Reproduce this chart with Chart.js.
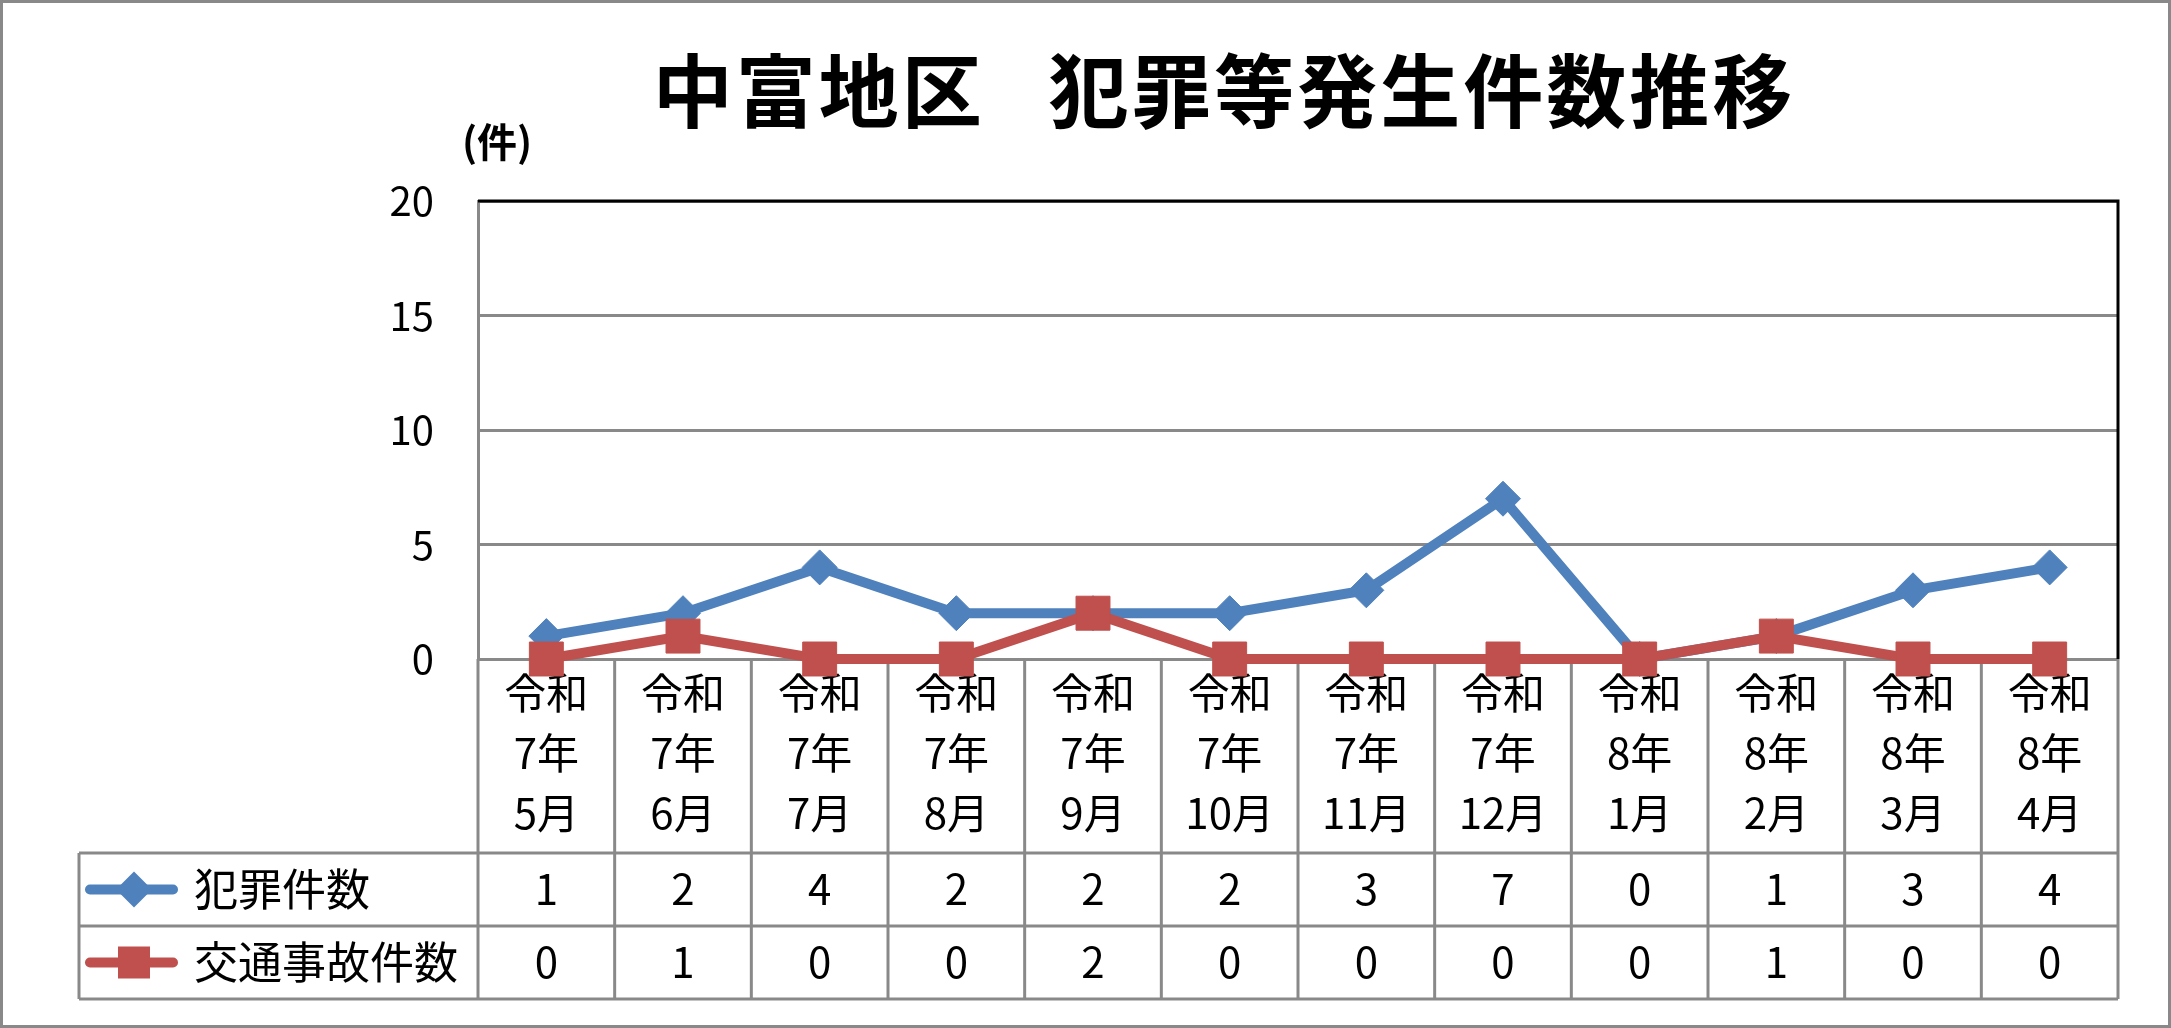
<!DOCTYPE html>
<html lang="ja">
<head>
    <meta charset="UTF-8">
    <title>中富地区 犯罪等発生件数推移</title>
    <style>
        html, body { margin: 0; padding: 0; background: #fff; }
        #wrap { width: 2171px; height: 1028px; }
    </style>
    <script src="https://cdn.jsdelivr.net/npm/chart.js"></script>
</head>
<body>
    <div id="wrap"><canvas id="chart" width="2171" height="1028"></canvas></div>

    <script>
        // data
        const months = [
            ['令和', '7年', '5月'], ['令和', '7年', '6月'], ['令和', '7年', '7月'],
            ['令和', '7年', '8月'], ['令和', '7年', '9月'], ['令和', '7年', '10月'],
            ['令和', '7年', '11月'], ['令和', '7年', '12月'], ['令和', '8年', '1月'],
            ['令和', '8年', '2月'], ['令和', '8年', '3月'], ['令和', '8年', '4月']
        ];
        const crimeCounts = [1, 2, 4, 2, 2, 2, 3, 7, 0, 1, 3, 4];
        const accidentCounts = [0, 1, 0, 0, 2, 0, 0, 0, 0, 1, 0, 0];
        const seriesNames = ['犯罪件数', '交通事故件数'];
        const yTicks = [0, 5, 10, 15, 20];
        const chartTitle = '中富地区   犯罪等発生件数推移';
        const unitLabel = '(件)';

        const BLUE = '#4F81BD';
        const RED = '#C0504D';
        const GRID = '#898989';
        const FONT = '"Noto Sans CJK JP", "Noto Sans", sans-serif';

        // draws the data table under the plot, title, unit label and frame
        const tablePlugin = {
            id: 'dataTable',
            beforeDatasetsDraw(chart) {
                const ctx = chart.ctx;
                const area = chart.chartArea;
                const xs = chart.scales.x;
                const headBottom = 853;
                const rowH = 73;
                const tableBottom = headBottom + rowH * 2;
                const tableLeft = 79;

                const centers = months.map((m, i) => xs.getPixelForValue(i));
                const band = (area.right - area.left) / months.length;

                ctx.save();
                // table lines
                ctx.strokeStyle = GRID;
                ctx.lineWidth = 3;
                ctx.beginPath();
                [headBottom, headBottom + rowH, tableBottom].forEach(y => {
                    ctx.moveTo(tableLeft, y);
                    ctx.lineTo(area.right, y);
                });
                ctx.moveTo(tableLeft, headBottom);
                ctx.lineTo(tableLeft, tableBottom);
                for (let i = 0; i <= months.length; i++) {
                    const x = i < months.length ? centers[i] - band / 2 : centers[i - 1] + band / 2;
                    ctx.moveTo(x, area.bottom);
                    ctx.lineTo(x, tableBottom);
                }
                ctx.stroke();

                // black frame on top and right of plot
                ctx.strokeStyle = '#000';
                ctx.beginPath();
                ctx.moveTo(area.left, area.top);
                ctx.lineTo(area.right, area.top);
                ctx.lineTo(area.right, area.bottom);
                ctx.stroke();

                // category labels
                ctx.fillStyle = '#000';
                ctx.textAlign = 'center';
                ctx.textBaseline = 'middle';
                ctx.font = '42px ' + FONT;
                months.forEach((lines, i) => {
                    lines.forEach((t, j) => ctx.fillText(t, centers[i], 693 + j * 60));
                });

                // values
                const rows = [crimeCounts, accidentCounts];
                rows.forEach((vals, r) => {
                    const y = headBottom + rowH * r + rowH / 2;
                    vals.forEach((v, i) => ctx.fillText(String(v), centers[i], y));
                });

                // legend keys in the table
                const keyX1 = 90, keyX2 = 173, keyC = 134;
                rows.forEach((vals, r) => {
                    const y = headBottom + rowH * r + rowH / 2;
                    const col = r === 0 ? BLUE : RED;
                    ctx.strokeStyle = col;
                    ctx.lineWidth = 10;
                    ctx.lineCap = 'round';
                    ctx.beginPath();
                    ctx.moveTo(keyX1, y);
                    ctx.lineTo(keyX2, y);
                    ctx.stroke();
                    ctx.fillStyle = col;
                    ctx.beginPath();
                    if (r === 0) {
                        ctx.moveTo(keyC, y - 18);
                        ctx.lineTo(keyC + 18, y);
                        ctx.lineTo(keyC, y + 18);
                        ctx.lineTo(keyC - 18, y);
                        ctx.closePath();
                    } else {
                        ctx.rect(keyC - 16, y - 16, 32, 32);
                    }
                    ctx.fill();
                    ctx.fillStyle = '#000';
                    ctx.textAlign = 'left';
                    ctx.font = '44px ' + FONT;
                    ctx.fillText(seriesNames[r], 194, y);
                    ctx.textAlign = 'center';
                    ctx.font = '42px ' + FONT;
                });

                // title and unit
                ctx.fillStyle = '#000';
                ctx.textAlign = 'center';
                ctx.font = 'bold 80px ' + FONT;
                ctx.letterSpacing = '3px';
                ctx.fillText(chartTitle, 1224, 91);
                ctx.letterSpacing = '0px';
                ctx.font = 'bold 40px ' + FONT;
                ctx.fillText(unitLabel, 497, 142);

                // outer frame
                ctx.strokeStyle = GRID;
                ctx.lineWidth = 3;
                ctx.strokeRect(1.5, 1.5, chart.width - 3, chart.height - 3);
                ctx.restore();
            }
        };

        const ctx = document.getElementById('chart').getContext('2d');
        new Chart(ctx, {
            type: 'line',
            data: {
                labels: months.map(m => m.join('')),
                datasets: [{
                    label: seriesNames[0],
                    data: crimeCounts,
                    order: 1,
                    borderColor: BLUE,
                    backgroundColor: BLUE,
                    borderWidth: 10,
                    pointStyle: 'rectRot',
                    pointRadius: 17.5,
                    pointBorderWidth: 1,
                    pointBorderColor: BLUE,
                    pointBackgroundColor: BLUE,
                    tension: 0,
                    clip: false
                }, {
                    label: seriesNames[1],
                    data: accidentCounts,
                    order: 0,
                    borderColor: RED,
                    backgroundColor: RED,
                    borderWidth: 10,
                    pointStyle: 'rect',
                    pointRadius: 24,
                    pointBorderWidth: 1,
                    pointBorderColor: RED,
                    pointBackgroundColor: RED,
                    tension: 0,
                    clip: false
                }]
            },
            options: {
                responsive: false,
                animation: false,
                devicePixelRatio: 1,
                layout: { padding: { left: 0, right: 53, top: 201, bottom: 0 } },
                plugins: {
                    legend: { display: false },
                    title: { display: false },
                    tooltip: { enabled: false }
                },
                scales: {
                    x: {
                        offset: true,
                        ticks: { display: false },
                        grid: { display: false, offset: true },
                        border: { display: false },
                        afterFit(scale) { scale.height = 369; }
                    },
                    y: {
                        min: 0,
                        max: 20,
                        afterBuildTicks(scale) { scale.ticks = yTicks.map(v => ({ value: v })); },
                        ticks: {
                            color: '#000',
                            padding: 44,
                            font: { family: FONT, size: 40 }
                        },
                        grid: { color: GRID, lineWidth: 3, drawTicks: false },
                        border: { display: true, color: GRID, width: 3 },
                        afterFit(scale) { scale.width = 478; }
                    }
                }
            },
            plugins: [tablePlugin]
        });
    </script>
</body>
</html>
